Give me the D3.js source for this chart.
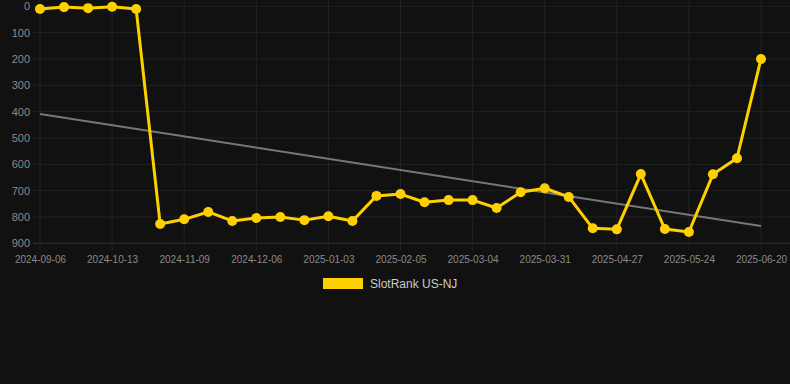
<!DOCTYPE html>
<html>
<head>
<meta charset="utf-8">
<script src="https://cdn.jsdelivr.net/npm/d3@7"></script>
<style>
  html, body { margin: 0; padding: 0; background: #111111; }
  svg { display: block; }
  text { font-family: "Liberation Sans", Arial, Helvetica, sans-serif; }
</style>
</head>
<body>
<svg id="chart" width="790" height="384"></svg>
<script>
const dates = [
  "2024-09-06","2024-09-18","2024-10-01","2024-10-13","2024-10-22","2024-10-31",
  "2024-11-09","2024-11-18","2024-11-27","2024-12-06","2024-12-15","2024-12-25",
  "2025-01-03","2025-01-14","2025-01-25","2025-02-05","2025-02-14","2025-02-23",
  "2025-03-04","2025-03-13","2025-03-22","2025-03-31","2025-04-09","2025-04-18",
  "2025-04-27","2025-05-06","2025-05-15","2025-05-24","2025-06-02","2025-06-11",
  "2025-06-20"
];
const ranks = [
  10, 3, 7, 2, 10, 827, 809, 781, 815, 804, 800, 812, 797, 815, 720, 713,
  744, 736, 736, 766, 706, 691, 724, 843, 847, 637, 846, 857, 638, 577, 200
];
const yTicks = [0, 100, 200, 300, 400, 500, 600, 700, 800, 900];
const seriesName = "SlotRank US-NJ";

const svg = d3.select("#chart");
const W = 790;
const plotLeft = 40, plotRight = 761, plotTop = 6.3, plotBottom = 243.3;

const x = d3.scalePoint().domain(dates).range([plotLeft, plotRight]);
const y = d3.scaleLinear().domain([0, 900]).range([plotTop, plotBottom]);

// horizontal grid
svg.append("g").selectAll("line").data(yTicks).join("line")
  .attr("x1", 33).attr("x2", W)
  .attr("y1", d => y(d)).attr("y2", d => y(d))
  .attr("stroke", d => d === 900 ? "#333" : "#222")
  .attr("stroke-width", 1);

// vertical grid at labelled ticks
const tickDates = dates.filter((d, i) => i % 3 === 0);
svg.append("g").selectAll("line").data(tickDates).join("line")
  .attr("x1", d => x(d)).attr("x2", d => x(d))
  .attr("y1", 0).attr("y2", plotBottom + 7)
  .attr("stroke", "#222").attr("stroke-width", 1);

// y labels
svg.append("g").selectAll("text").data(yTicks).join("text")
  .attr("x", 30).attr("y", d => y(d))
  .attr("text-anchor", "end").attr("dominant-baseline", "central")
  .attr("fill", "#8a8a8a").attr("font-size", 11)
  .text(d => d);

// x labels
const xAxis = d3.axisBottom(x).tickValues(tickDates).tickSize(0).tickPadding(0);
const gx = svg.append("g").attr("transform", `translate(0,${plotBottom})`).call(xAxis);
gx.select(".domain").remove();
gx.selectAll("text")
  .attr("y", 19.5).attr("dy", 0)
  .attr("fill", "#8a8a8a").attr("font-size", 10)
  .attr("font-family", "'Liberation Sans', Arial, sans-serif");

// trend line (least squares)
const n = ranks.length;
const idx = d3.range(n);
const mx = d3.mean(idx), my = d3.mean(ranks);
const slope = d3.sum(idx, i => (i - mx) * (ranks[i] - my)) / d3.sum(idx, i => (i - mx) ** 2);
const icpt = my - slope * mx;
svg.append("line")
  .attr("x1", x(dates[0])).attr("y1", y(icpt))
  .attr("x2", x(dates[n - 1])).attr("y2", y(icpt + slope * (n - 1)))
  .attr("stroke", "#777").attr("stroke-width", 2);

// series line
const line = d3.line().x((d, i) => x(dates[i])).y(d => y(d));
svg.append("path").datum(ranks)
  .attr("d", line).attr("fill", "none")
  .attr("stroke", "#FFD000").attr("stroke-width", 3)
  .attr("stroke-linejoin", "round");

svg.append("g").selectAll("circle").data(ranks).join("circle")
  .attr("cx", (d, i) => x(dates[i])).attr("cy", d => y(d))
  .attr("r", 5).attr("fill", "#FFD000");

// legend
const lg = svg.append("g");
lg.append("rect").attr("x", 323).attr("y", 278).attr("width", 40).attr("height", 11)
  .attr("fill", "#FFD000");
lg.append("text").attr("x", 370).attr("y", 284).attr("dominant-baseline", "central")
  .attr("fill", "#cccccc").attr("font-size", 12).text(seriesName);
</script>
</body>
</html>
